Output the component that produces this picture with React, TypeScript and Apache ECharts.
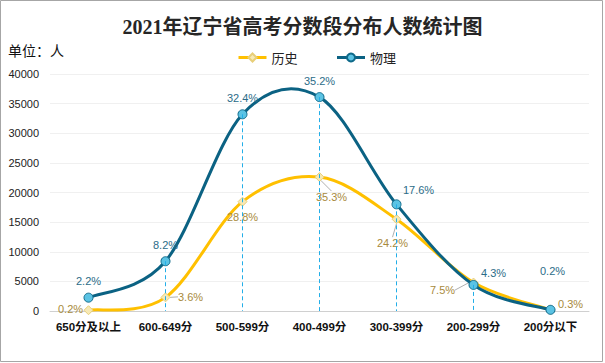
import React, { useEffect, useRef } from "react";
import * as echarts from "echarts";

const categories = ["650分及以上", "600-649分", "500-599分", "400-499分", "300-399分", "200-299分", "200分以下"];
const historyValues = [130, 2300, 18450, 22600, 15500, 4800, 190];
const physicsValues = [2250, 8400, 33200, 36100, 18000, 4400, 200];
const historyPct = ["0.2%", "3.6%", "28.8%", "35.3%", "24.2%", "7.5%", "0.3%"];
const physicsPct = ["2.2%", "8.2%", "32.4%", "35.2%", "17.6%", "4.3%", "0.2%"];
const yTicks = { min: 0, max: 40000, interval: 5000 };

const HIST_COLOR = "#ffc000";
const PHYS_COLOR = "#0b6283";

// label offsets (pixels) relative to default "top" placement
const physicsOffsets = [[0, 0], [0, 0], [0, 0], [0, 0], [22, 2], [20, 5], [2, -22]];
const historyLayout = [
  { dx: -18, dy: 0, line: false },
  { dx: 25, dy: 1, line: true },
  { dx: 0, dy: 17, line: false },
  { dx: 12, dy: 21, line: true },
  { dx: -4, dy: 25, line: true },
  { dx: -31, dy: 9, line: true },
  { dx: 20, dy: -4, line: false },
];

// smooth curve (Excel-style cardinal bezier) drawn through axis coordinates
function curveSeries(values: number[], color: string, z: number) {
  const n = values.length;
  return {
    type: "custom",
    silent: true,
    z,
    data: values.map((v, i) => [i, v]),
    renderItem: (params: any, api: any) => {
      const i = params.dataIndex;
      if (i >= n - 1) return null;
      const P = (j: number) => {
        const k = Math.max(0, Math.min(n - 1, j));
        return api.coord([k, values[k]]);
      };
      const p0 = P(i - 1), p1 = P(i), p2 = P(i + 1), p3 = P(i + 2);
      return {
        type: "bezierCurve",
        shape: {
          x1: p1[0], y1: p1[1],
          x2: p2[0], y2: p2[1],
          cpx1: p1[0] + (p2[0] - p0[0]) / 6,
          cpy1: p1[1] + (p2[1] - p0[1]) / 6,
          cpx2: p2[0] - (p3[0] - p1[0]) / 6,
          cpy2: p2[1] - (p3[1] - p1[1]) / 6,
        },
        style: { stroke: color, lineWidth: 3, fill: "none", lineCap: "round" },
      };
    },
  };
}

export default function App() {
  const ref = useRef<HTMLDivElement>(null);
  useEffect(() => {
    const chart = echarts.init(ref.current!, null, { renderer: "svg" });
    const dropLines = [1, 2, 3, 4, 5].map((i) => [
      { coord: [i, physicsValues[i]] },
      { coord: [i, 0] },
    ]);
    chart.setOption({
      animation: false,
      backgroundColor: "#ffffff",
      textStyle: { fontFamily: "'Liberation Sans', 'Noto Sans CJK SC', sans-serif" },
      title: {
        text: "2021年辽宁省高考分数段分布人数统计图",
        left: "center",
        top: 12,
        textStyle: {
          fontFamily: "'Liberation Serif', 'Noto Sans CJK SC', serif",
          fontSize: 20,
          fontWeight: "bold",
          color: "#262626",
        },
      },
      graphic: [
        {
          type: "rect",
          shape: { x: 0.5, y: 0.5, width: 602, height: 361 },
          style: { fill: "none", stroke: "#a6a6a6", lineWidth: 1 },
          silent: true,
        },
        {
          type: "text",
          left: 8,
          top: 43,
          style: { text: "单位：人", font: "14px 'Noto Sans CJK SC'", fill: "#111" },
        },
      ],
      legend: {
        left: 232,
        top: 46,
        itemWidth: 28,
        itemHeight: 10,
        itemGap: 38,
        textStyle: { fontSize: 13, color: "#222", fontFamily: "'Noto Sans CJK SC'" },
        data: [
          { name: "历史", lineStyle: { color: HIST_COLOR, width: 3, opacity: 1 } },
          { name: "物理", lineStyle: { color: PHYS_COLOR, width: 3, opacity: 1 } },
        ],
      },
      grid: { left: 50, right: 16, top: 74, bottom: 52 },
      xAxis: {
        type: "category",
        data: categories,
        boundaryGap: true,
        axisLine: { lineStyle: { color: "#d0d0d0" } },
        axisTick: { show: false },
        axisLabel: { interval: 0, fontSize: 11.5, fontWeight: "bold", color: "#111", margin: 10 },
      },
      yAxis: {
        type: "value",
        min: yTicks.min,
        max: yTicks.max,
        interval: yTicks.interval,
        axisLine: { show: false },
        axisTick: { show: false },
        axisLabel: { fontSize: 11, color: "#222", margin: 11, formatter: (v: number) => String(v) },
        splitLine: { lineStyle: { color: "#f0f0f0" } },
      },
      series: [
        curveSeries(historyValues, HIST_COLOR, 1),
        {
          name: "历史",
          type: "line",
          data: historyValues.map((v, i) => ({
            value: v,
            labelLine: { show: historyLayout[i].line },
          })),
          symbol: "diamond",
          symbolSize: 9,
          itemStyle: { color: "#f7e9b5", borderColor: "#e8cf7a", borderWidth: 1 },
          lineStyle: { color: HIST_COLOR, width: 0, opacity: 0 },
          label: {
            show: true,
            position: "top",
            fontSize: 11,
            color: "#a88a3c",
            formatter: (p: any) => historyPct[p.dataIndex],
          },
          labelLine: { show: true, lineStyle: { color: "#b0b0b0", width: 1 } },
          labelLayout: (p: any) => ({
            dx: historyLayout[p.dataIndex].dx,
            dy: historyLayout[p.dataIndex].dy + 14,
          }),
          z: 2,
        },
        curveSeries(physicsValues, PHYS_COLOR, 3),
        {
          name: "物理",
          type: "line",
          data: physicsValues.map((v, i) => ({
            value: v,
            label: { offset: physicsOffsets[i] },
          })),
          symbol: "circle",
          symbolSize: 9,
          itemStyle: { color: "#5bc3e4", borderColor: "#0f6a8a", borderWidth: 1 },
          lineStyle: { color: PHYS_COLOR, width: 0, opacity: 0 },
          label: {
            show: true,
            position: "top",
            distance: 6,
            fontSize: 11,
            color: "#2b6c88",
            formatter: (p: any) => physicsPct[p.dataIndex],
          },
          markLine: {
            silent: true,
            symbol: "none",
            label: { show: false },
            lineStyle: { color: "#22aee8", type: [4, 3], width: 1, opacity: 1 },
            data: dropLines,
          },
          z: 4,
        },
      ],
    });
    return () => chart.dispose();
  }, []);
  return (
    <div
      ref={ref}
      style={{ position: "fixed", left: 0, top: 0, width: 605, height: 363 }}
    />
  );
}
